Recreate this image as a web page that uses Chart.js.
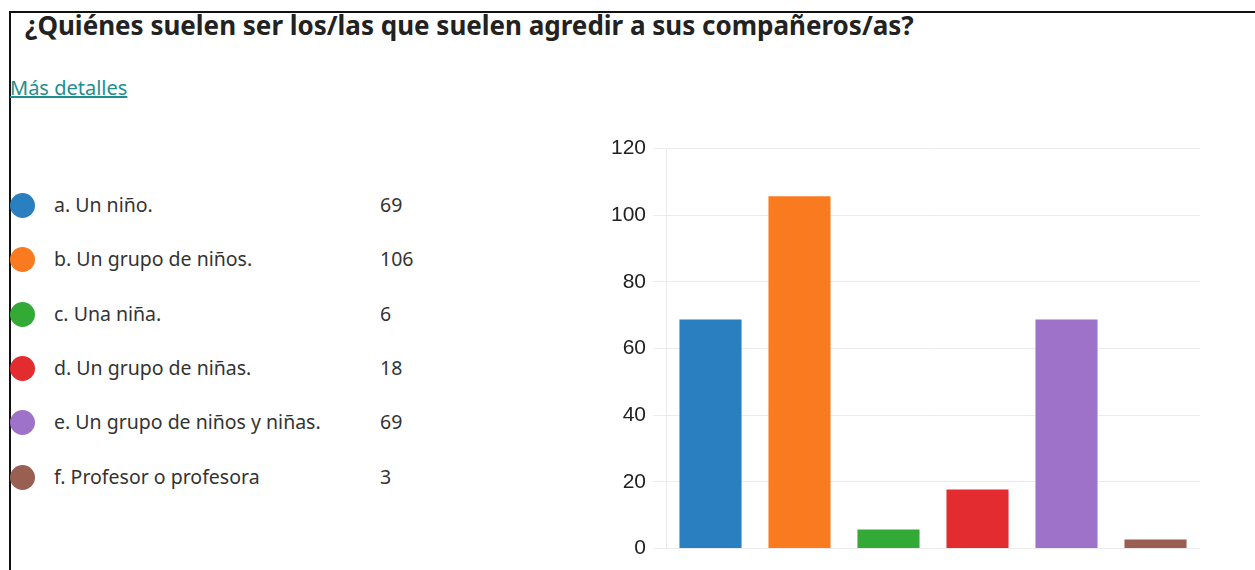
<!DOCTYPE html>
<html>
<head>
<meta charset="utf-8">
<script src="https://cdn.jsdelivr.net/npm/chart.js@4.4.0/dist/chart.umd.min.js"></script>
<style>
  html, body { margin: 0; padding: 0; background: #fff; }
  body { width: 1255px; height: 570px; position: relative; overflow: hidden; font-family: "Noto Sans", "Open Sans", sans-serif; }
  #frame { position: absolute; left: 9px; top: 11px; width: 1260px; height: 600px; border-top: 2px solid #111; border-left: 2px solid #111; }
  #title { position: absolute; left: 25px; top: 7px; font-size: 26px; font-weight: bold; color: #222; white-space: nowrap; }
  #more { position: absolute; left: 10px; top: 74px; font-size: 20px; color: #1e8e8e; text-decoration: underline; }
  .item { position: absolute; left: 10px; height: 30px; font-size: 19.5px; color: #333; }
  .dot { position: absolute; left: 0; top: 2px; width: 25px; height: 25px; border-radius: 50%; }
  .lab { position: absolute; left: 44px; top: 0; white-space: nowrap; }
  .val { position: absolute; left: 370px; top: 0; }
  #wrap { position: absolute; left: 580px; top: 129px; width: 630px; height: 439px; }
</style>
</head>
<body>
<div id="frame"></div>
<div id="title">¿Quiénes suelen ser los/las que suelen agredir a sus compañeros/as?</div>
<div id="more">Más detalles</div>
<div id="legend"></div>
<div id="wrap"><canvas id="chart"></canvas></div>
<script>
// data
const categories = ['a. Un niño.', 'b. Un grupo de niños.', 'c. Una niña.', 'd. Un grupo de niñas.', 'e. Un grupo de niños y niñas.', 'f. Profesor o profesora'];
const counts = [69, 106, 6, 18, 69, 3];
const colors = ['#2a7fc0', '#fa7a1f', '#33aa35', '#e22c2f', '#9e72c9', '#985f52'];
const yTicks = [0, 20, 40, 60, 80, 100, 120];

// legend on the left
const legend = document.getElementById('legend');
categories.forEach(function(name, i) {
  const row = document.createElement('div');
  row.className = 'item';
  row.style.top = (191 + i * 54.3) + 'px';
  row.innerHTML = '<div class="dot" style="background:' + colors[i] + '"></div>' +
    '<div class="lab">' + name + '</div><div class="val">' + counts[i] + '</div>';
  legend.appendChild(row);
});

new Chart(document.getElementById('chart'), {
  type: 'bar',
  data: {
    labels: categories,
    datasets: [{
      data: counts,
      backgroundColor: colors,
      borderColor: 'rgba(255,255,255,0.6)',
      borderWidth: 1
    }]
  },
  options: {
    responsive: true,
    maintainAspectRatio: false,
    animation: false,
    layout: { padding: { top: 0, right: 10, bottom: 0, left: 0 } },
    plugins: {
      legend: { display: false },
      tooltip: { enabled: false }
    },
    scales: {
      x: {
        display: false
      },
      y: {
        min: 0,
        max: yTicks[yTicks.length - 1],
        afterBuildTicks: function(scale) {
          scale.ticks = yTicks.map(function(v) { return { value: v }; });
        },
        afterFit: function(scale) { scale.width = 86; },
        grid: { color: '#ebebeb', tickLength: 13 },
        border: { color: '#ebebeb' },
        ticks: {
          color: '#222',
          padding: 7,
          font: { family: "'Liberation Sans', Arial, sans-serif", size: 21 }
        }
      }
    }
  }
});
</script>
</body>
</html>
